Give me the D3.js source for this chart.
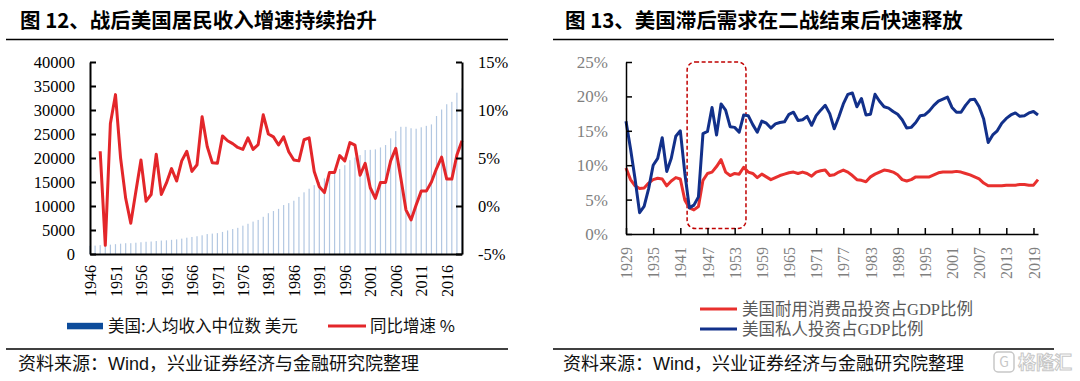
<!DOCTYPE html>
<html><head><meta charset="utf-8">
<script src="https://cdn.jsdelivr.net/npm/d3@7"></script>
<style>body{margin:0;background:#fff}svg{display:block}</style>
</head><body><svg id="c" width="1080" height="381"></svg>
<script>
// ---------- DATA: left chart (图 12) ----------
const incomeYears = d3.range(1946, 2020);
const incomeMedian = [1700,1750,1850,1850,1950,2050,2150,2250,2250,2350,
  2450,2550,2600,2700,2800,2850,2950,3050,3200,3400,
  3550,3700,3900,4150,4250,4350,4600,4900,5200,5450,
  5900,6300,6750,7100,7750,8500,8950,9400,10200,10600,
  11100,11900,12850,13600,14350,15000,15750,16200,16800,17700,
  18500,19550,20100,20600,21650,21700,21800,22200,22700,24100,
  25600,26500,26500,26200,26100,26400,26700,27000,28750,30100,
  31200,31700,33600,34500];
const growthYears = d3.range(1948, 2020);
const incomeGrowth = [5.7,-4.1,8.6,11.6,5.0,0.8,-1.8,1.5,4.8,0.5,
  1.2,5.4,1.2,2.4,3.9,2.6,4.7,5.7,3.6,4.3,
  9.3,6.2,4.5,4.45,7.3,6.8,6.5,6.1,5.9,7.1,
  5.9,6.4,9.5,7.5,7.2,6.35,7.2,5.65,4.8,4.7,
  6.9,7.1,3.6,2.0,1.4,3.5,3.5,5.25,4.7,6.6,
  6.35,3.2,4.45,1.9,0.8,2.45,2.45,4.7,6.0,2.9,
  -0.4,-1.45,0.1,1.55,1.55,2.5,3.9,5.1,2.8,2.8,
  5.3,6.8];
const leftTicks = [0,5000,10000,15000,20000,25000,30000,35000,40000];
const rightTicks = [-5,0,5,10,15];
const leftXLabels = d3.range(1946, 2020, 5);

// ---------- DATA: right chart (图 13) ----------
const invYears = d3.range(1929, 2021);
const privateInvShare = [16.4,12.4,8.0,3.1,4.0,6.6,10.0,11.0,14.0,9.1,
  11.0,14.2,15.0,8.8,3.8,4.2,5.4,14.6,14.9,18.4,
  14.4,18.9,18.0,15.6,15.5,14.8,17.3,17.2,15.9,14.8,
  16.4,16.1,15.4,16.0,16.2,16.3,17.4,17.7,16.5,16.6,
  17.1,15.8,17.2,18.0,18.7,17.5,15.3,17.0,18.9,20.3,
  20.5,18.5,19.7,17.3,17.4,20.3,19.3,18.5,18.3,17.8,
  17.4,16.6,15.4,15.5,16.2,17.2,17.3,17.9,18.7,19.3,
  19.6,19.9,18.4,17.7,17.7,18.7,19.5,19.6,18.5,16.7,
  13.3,14.4,15.0,16.1,16.8,17.3,17.6,17.1,17.2,17.6,
  17.8,17.3];
const durableShare = [9.6,7.9,7.0,6.6,6.7,7.4,7.9,8.1,8.0,7.0,
  7.7,8.2,8.0,4.9,3.8,3.5,4.0,7.8,8.8,9.0,
  9.8,10.8,9.0,8.5,8.8,8.7,9.7,9.0,8.8,8.2,
  8.7,8.3,7.9,8.2,8.5,8.7,8.9,9.0,8.8,9.0,
  8.8,8.4,9.0,9.2,9.3,8.5,8.6,9.0,9.3,9.0,
  8.5,7.9,7.8,7.6,8.3,8.7,9.0,9.3,9.2,9.0,
  8.6,7.9,7.7,7.9,8.3,8.3,8.3,8.3,8.6,8.9,
  9.0,9.0,9.0,9.1,9.0,8.8,8.6,8.3,8.0,7.4,
  7.0,7.0,7.0,7.0,7.1,7.1,7.1,7.2,7.2,7.1,
  7.1,7.9];
const pctTicks = [0,5,10,15,20,25];
const rightXLabels = d3.range(1929, 2020, 6);

// ---------- DRAW ----------
const svg = d3.select('#c');
const SERIF = '"Liberation Serif","Times New Roman","Noto Sans CJK SC",serif';
const CJK = '"Noto Sans CJK SC","Noto Sans",sans-serif';

// titles + rules
function header(x0, x1, tx, title){
  svg.append('text').attr('x', tx).attr('y', 28).attr('font-family', CJK)
    .attr('font-weight', 700).attr('font-size', 20.5).attr('fill', '#000').text(title);
  svg.append('line').attr('x1', x0).attr('x2', x1).attr('y1', 39.5).attr('y2', 39.5)
    .attr('stroke', '#000').attr('stroke-width', 1.5);
  svg.append('line').attr('x1', x0).attr('x2', x1).attr('y1', 349).attr('y2', 349)
    .attr('stroke', '#000').attr('stroke-width', 1.5);
  const s = svg.append('text').attr('x', tx - 2).attr('y', 370).attr('font-family', CJK)
    .attr('font-size', 18).attr('fill', '#111');
  s.append('tspan').text('资料来源：');
  s.append('tspan').attr('font-family', '"Liberation Sans",Arial,sans-serif').text('Wind');
  s.append('tspan').text('，兴业证券经济与金融研究院整理');
}
header(6, 508, 20, '图 12、战后美国居民收入增速持续抬升');
header(553, 1054, 565, '图 13、美国滞后需求在二战结束后快速释放');

// ----- left chart -----
const xL = d3.scalePoint().domain(incomeYears).range([90, 462]);
const yL = d3.scaleLinear().domain([0, 40000]).range([254, 62]);
const yR = d3.scaleLinear().domain([-5, 15]).range([254, 62]);

svg.append('g').selectAll('rect').data(incomeYears).join('rect')
  .attr('x', d => xL(d) - 0.6).attr('width', 1.2)
  .attr('y', (d, i) => yL(incomeMedian[i]))
  .attr('height', (d, i) => 254 - yL(incomeMedian[i]))
  .attr('fill', '#b3c8e2');

svg.append('path').datum(growthYears)
  .attr('d', d3.line().x(d => xL(d)).y((d, i) => yR(incomeGrowth[i])))
  .attr('fill', 'none').attr('stroke', '#e3262a').attr('stroke-width', 3)
  .attr('stroke-linejoin', 'round');

function styleAxis(g, color, sw){
  g.select('.domain').attr('stroke', '#000').attr('stroke-width', sw);
  g.selectAll('.tick line').attr('stroke', '#000').attr('stroke-width', sw);
  g.selectAll('text').attr('font-family', SERIF).attr('fill', color);
}
const axL = svg.append('g').attr('transform', 'translate(90,0)')
  .call(d3.axisLeft(yL).tickValues(leftTicks).tickSize(-6).tickSizeOuter(0).tickPadding(15).tickFormat(d3.format('d')))
  .attr('font-size', 16.5);
styleAxis(axL, '#000', 2);
const axR = svg.append('g').attr('transform', 'translate(462,0)')
  .call(d3.axisRight(yR).tickValues(rightTicks).tickSize(-6).tickSizeOuter(0).tickPadding(16).tickFormat(d => d + '%'))
  .attr('font-size', 16.5);
styleAxis(axR, '#000', 2);
const axB = svg.append('g').attr('transform', 'translate(0,254)')
  .call(d3.axisBottom(xL).tickValues(leftXLabels).tickSize(0).tickSizeOuter(0).tickFormat(d3.format('d')))
  .attr('font-size', 16);
styleAxis(axB, '#000', 2);
axB.selectAll('text').attr('transform', 'rotate(-90)').attr('x', -11).attr('y', 0)
  .attr('dy', '0.35em').attr('text-anchor', 'end');

// left legend
svg.append('rect').attr('x', 67).attr('y', 322.8).attr('width', 36).attr('height', 6.5).attr('fill', '#0d4c9b');
svg.append('text').attr('x', 108).attr('y', 326).attr('dy', '0.36em').attr('font-family', CJK)
  .attr('font-size', 16.5).attr('fill', '#111').text('美国:人均收入中位数 美元');
svg.append('line').attr('x1', 328).attr('x2', 366).attr('y1', 326).attr('y2', 326)
  .attr('stroke', '#e3262a').attr('stroke-width', 3);
svg.append('text').attr('x', 370).attr('y', 326).attr('dy', '0.36em').attr('font-family', CJK)
  .attr('font-size', 16.5).attr('fill', '#111').text('同比增速 %');

// ----- right chart -----
const xR = d3.scaleLinear().domain([1929, 2020]).range([626, 1038]);
const yP = d3.scaleLinear().domain([0, 25]).range([234, 62]);

svg.append('rect').attr('x', xR(1942.5)).attr('y', yP(25)).attr('width', xR(1955.5) - xR(1942.5))
  .attr('height', yP(0.8) - yP(25)).attr('rx', 8).attr('ry', 8)
  .attr('fill', 'none').attr('stroke', '#c00000').attr('stroke-width', 1.5).attr('stroke-dasharray', '4,2.5');

svg.append('path').datum(invYears)
  .attr('d', d3.line().x(d => xR(d)).y((d, i) => yP(durableShare[i])))
  .attr('fill', 'none').attr('stroke', '#e8302e').attr('stroke-width', 3).attr('stroke-linejoin', 'round');
svg.append('path').datum(invYears)
  .attr('d', d3.line().x(d => xR(d)).y((d, i) => yP(privateInvShare[i])))
  .attr('fill', 'none').attr('stroke', '#12308a').attr('stroke-width', 3).attr('stroke-linejoin', 'round');

const ax2L = svg.append('g').attr('transform', 'translate(626,0)')
  .call(d3.axisLeft(yP).tickValues(pctTicks).tickSize(-6).tickSizeOuter(0).tickPadding(18).tickFormat(d => d + '%'))
  .attr('font-size', 17);
styleAxis(ax2L, '#7f7f7f', 1.5);
const ax2B = svg.append('g').attr('transform', 'translate(0,234)')
  .call(d3.axisBottom(xR).tickValues(rightXLabels).tickSize(-6).tickSizeOuter(0).tickFormat(d3.format('d')))
  .attr('font-size', 16);
styleAxis(ax2B, '#7f7f7f', 1.5);
ax2B.selectAll('text').attr('transform', 'rotate(-90)').attr('x', -13).attr('y', 0)
  .attr('dy', '0.35em').attr('text-anchor', 'end');

// right legend
[['美国耐用消费品投资占GDP比例', '#e8302e', 309], ['美国私人投资占GDP比例', '#12308a', 329]].forEach(([t, c, y]) => {
  svg.append('line').attr('x1', 700).attr('x2', 737).attr('y1', y).attr('y2', y)
    .attr('stroke', c).attr('stroke-width', 3);
  svg.append('text').attr('x', 742).attr('y', y).attr('dy', '0.36em').attr('font-family', SERIF)
    .attr('font-size', 16.5).attr('fill', '#595959').text(t);
});

// watermark
const wm = svg.append('g').attr('opacity', 0.55);
wm.append('rect').attr('x', 994).attr('y', 352).attr('width', 20).attr('height', 20).attr('rx', 4)
  .attr('fill', 'none').attr('stroke', '#9a9a9a').attr('stroke-width', 1.5);
wm.append('text').attr('x', 1004).attr('y', 367).attr('text-anchor', 'middle').attr('font-family', CJK)
  .attr('font-size', 14).attr('fill', '#9a9a9a').text('G');
wm.append('text').attr('x', 1018).attr('y', 369).attr('font-family', CJK).attr('font-weight', 700)
  .attr('font-size', 18).attr('fill', '#fff').attr('stroke', '#9a9a9a').attr('stroke-width', 1).text('格隆汇');
</script></body></html>
